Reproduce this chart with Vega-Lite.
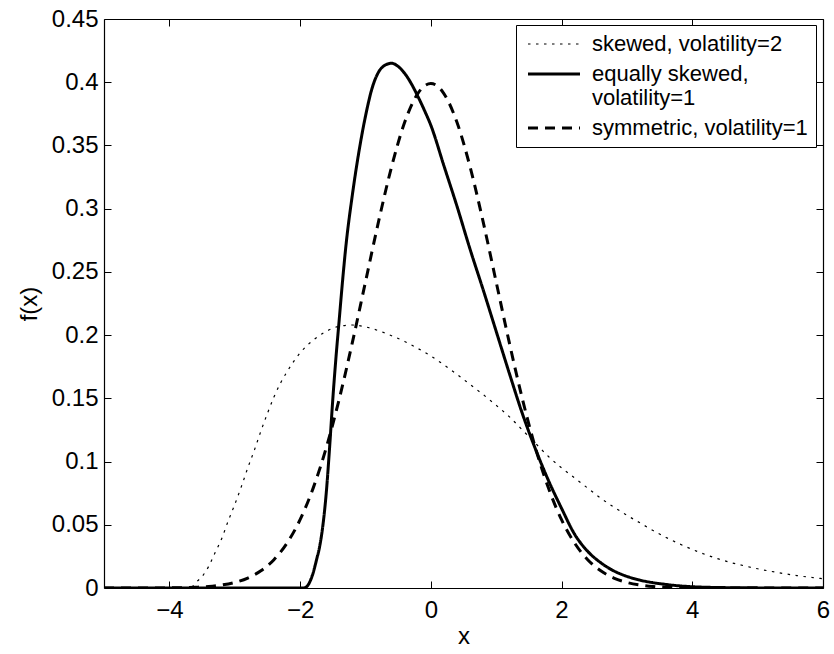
{
  "$schema": "https://vega.github.io/schema/vega-lite/v6.json",
  "width": 719,
  "height": 569,
  "autosize": {"type": "none"},
  "padding": {"left": 104, "top": 19, "right": 11, "bottom": 66},
  "background": "white",
  "config": {
    "view": {"stroke": null},
    "font": "Liberation Sans",
    "axis": {
      "domainColor": "black",
      "domainWidth": 1.2,
      "tickColor": "black",
      "tickWidth": 1,
      "tickSize": -7,
      "labelColor": "black",
      "titleColor": "black",
      "labelFont": "Liberation Sans",
      "titleFont": "Liberation Sans",
      "labelFontSize": 24,
      "titleFontSize": 24,
      "titleFontWeight": "normal",
      "grid": false,
      "labelFlush": false,
      "labelOverlap": false
    }
  },
  "datasets": {
    "curves": [
      {"s": "skewed, volatility=2", "x": -5, "y": 0},
      {"s": "skewed, volatility=2", "x": -3.7, "y": 0},
      {"s": "skewed, volatility=2", "x": -3.65, "y": 0.001},
      {"s": "skewed, volatility=2", "x": -3.6, "y": 0.004},
      {"s": "skewed, volatility=2", "x": -3.5, "y": 0.009},
      {"s": "skewed, volatility=2", "x": -3.4, "y": 0.017},
      {"s": "skewed, volatility=2", "x": -3.3, "y": 0.028},
      {"s": "skewed, volatility=2", "x": -3.2, "y": 0.039},
      {"s": "skewed, volatility=2", "x": -3.1, "y": 0.053},
      {"s": "skewed, volatility=2", "x": -3.0, "y": 0.066},
      {"s": "skewed, volatility=2", "x": -2.9, "y": 0.080},
      {"s": "skewed, volatility=2", "x": -2.8, "y": 0.095},
      {"s": "skewed, volatility=2", "x": -2.7, "y": 0.109},
      {"s": "skewed, volatility=2", "x": -2.6, "y": 0.124},
      {"s": "skewed, volatility=2", "x": -2.5, "y": 0.138},
      {"s": "skewed, volatility=2", "x": -2.4, "y": 0.151},
      {"s": "skewed, volatility=2", "x": -2.3, "y": 0.162},
      {"s": "skewed, volatility=2", "x": -2.2, "y": 0.171},
      {"s": "skewed, volatility=2", "x": -2.1, "y": 0.179},
      {"s": "skewed, volatility=2", "x": -2.0, "y": 0.186},
      {"s": "skewed, volatility=2", "x": -1.8, "y": 0.196},
      {"s": "skewed, volatility=2", "x": -1.6, "y": 0.203},
      {"s": "skewed, volatility=2", "x": -1.4, "y": 0.207},
      {"s": "skewed, volatility=2", "x": -1.2, "y": 0.208},
      {"s": "skewed, volatility=2", "x": -1.0, "y": 0.2065},
      {"s": "skewed, volatility=2", "x": -0.8, "y": 0.2035},
      {"s": "skewed, volatility=2", "x": -0.6, "y": 0.1995},
      {"s": "skewed, volatility=2", "x": -0.4, "y": 0.195},
      {"s": "skewed, volatility=2", "x": -0.2, "y": 0.1895},
      {"s": "skewed, volatility=2", "x": 0.0, "y": 0.1835},
      {"s": "skewed, volatility=2", "x": 0.2, "y": 0.1765},
      {"s": "skewed, volatility=2", "x": 0.4, "y": 0.169},
      {"s": "skewed, volatility=2", "x": 0.6, "y": 0.161},
      {"s": "skewed, volatility=2", "x": 0.8, "y": 0.153},
      {"s": "skewed, volatility=2", "x": 1.0, "y": 0.1445},
      {"s": "skewed, volatility=2", "x": 1.2, "y": 0.1355},
      {"s": "skewed, volatility=2", "x": 1.4, "y": 0.125},
      {"s": "skewed, volatility=2", "x": 1.6, "y": 0.1145},
      {"s": "skewed, volatility=2", "x": 1.8, "y": 0.104},
      {"s": "skewed, volatility=2", "x": 2.0, "y": 0.095},
      {"s": "skewed, volatility=2", "x": 2.2, "y": 0.087},
      {"s": "skewed, volatility=2", "x": 2.4, "y": 0.079},
      {"s": "skewed, volatility=2", "x": 2.6, "y": 0.071},
      {"s": "skewed, volatility=2", "x": 2.8, "y": 0.064},
      {"s": "skewed, volatility=2", "x": 3.0, "y": 0.0575},
      {"s": "skewed, volatility=2", "x": 3.2, "y": 0.0515},
      {"s": "skewed, volatility=2", "x": 3.4, "y": 0.0455},
      {"s": "skewed, volatility=2", "x": 3.6, "y": 0.040},
      {"s": "skewed, volatility=2", "x": 3.8, "y": 0.035},
      {"s": "skewed, volatility=2", "x": 4.0, "y": 0.0305},
      {"s": "skewed, volatility=2", "x": 4.2, "y": 0.0265},
      {"s": "skewed, volatility=2", "x": 4.4, "y": 0.023},
      {"s": "skewed, volatility=2", "x": 4.6, "y": 0.020},
      {"s": "skewed, volatility=2", "x": 4.8, "y": 0.0175},
      {"s": "skewed, volatility=2", "x": 5.0, "y": 0.0152},
      {"s": "skewed, volatility=2", "x": 5.2, "y": 0.0132},
      {"s": "skewed, volatility=2", "x": 5.4, "y": 0.0114},
      {"s": "skewed, volatility=2", "x": 5.6, "y": 0.0098},
      {"s": "skewed, volatility=2", "x": 5.8, "y": 0.0085},
      {"s": "skewed, volatility=2", "x": 6.0, "y": 0.0073},

      {"s": "equally skewed, volatility=1", "x": -5, "y": 0},
      {"s": "equally skewed, volatility=1", "x": -2.0, "y": 0},
      {"s": "equally skewed, volatility=1", "x": -1.95, "y": 0},
      {"s": "equally skewed, volatility=1", "x": -1.9, "y": 0.001},
      {"s": "equally skewed, volatility=1", "x": -1.85, "y": 0.005},
      {"s": "equally skewed, volatility=1", "x": -1.8, "y": 0.012},
      {"s": "equally skewed, volatility=1", "x": -1.75, "y": 0.022},
      {"s": "equally skewed, volatility=1", "x": -1.7, "y": 0.033},
      {"s": "equally skewed, volatility=1", "x": -1.65, "y": 0.050},
      {"s": "equally skewed, volatility=1", "x": -1.6, "y": 0.075},
      {"s": "equally skewed, volatility=1", "x": -1.55, "y": 0.110},
      {"s": "equally skewed, volatility=1", "x": -1.5, "y": 0.149},
      {"s": "equally skewed, volatility=1", "x": -1.45, "y": 0.183},
      {"s": "equally skewed, volatility=1", "x": -1.4, "y": 0.213},
      {"s": "equally skewed, volatility=1", "x": -1.35, "y": 0.243},
      {"s": "equally skewed, volatility=1", "x": -1.3, "y": 0.270},
      {"s": "equally skewed, volatility=1", "x": -1.2, "y": 0.311},
      {"s": "equally skewed, volatility=1", "x": -1.1, "y": 0.345},
      {"s": "equally skewed, volatility=1", "x": -1.0, "y": 0.373},
      {"s": "equally skewed, volatility=1", "x": -0.9, "y": 0.395},
      {"s": "equally skewed, volatility=1", "x": -0.8, "y": 0.408},
      {"s": "equally skewed, volatility=1", "x": -0.7, "y": 0.4135},
      {"s": "equally skewed, volatility=1", "x": -0.6, "y": 0.415},
      {"s": "equally skewed, volatility=1", "x": -0.5, "y": 0.4125},
      {"s": "equally skewed, volatility=1", "x": -0.4, "y": 0.407},
      {"s": "equally skewed, volatility=1", "x": -0.3, "y": 0.399},
      {"s": "equally skewed, volatility=1", "x": -0.2, "y": 0.389},
      {"s": "equally skewed, volatility=1", "x": -0.1, "y": 0.378},
      {"s": "equally skewed, volatility=1", "x": 0.0, "y": 0.366},
      {"s": "equally skewed, volatility=1", "x": 0.2, "y": 0.334},
      {"s": "equally skewed, volatility=1", "x": 0.4, "y": 0.302},
      {"s": "equally skewed, volatility=1", "x": 0.6, "y": 0.268},
      {"s": "equally skewed, volatility=1", "x": 0.8, "y": 0.236},
      {"s": "equally skewed, volatility=1", "x": 1.0, "y": 0.203},
      {"s": "equally skewed, volatility=1", "x": 1.2, "y": 0.170},
      {"s": "equally skewed, volatility=1", "x": 1.4, "y": 0.138},
      {"s": "equally skewed, volatility=1", "x": 1.6, "y": 0.110},
      {"s": "equally skewed, volatility=1", "x": 1.8, "y": 0.085},
      {"s": "equally skewed, volatility=1", "x": 2.0, "y": 0.063},
      {"s": "equally skewed, volatility=1", "x": 2.2, "y": 0.0425},
      {"s": "equally skewed, volatility=1", "x": 2.4, "y": 0.029},
      {"s": "equally skewed, volatility=1", "x": 2.6, "y": 0.020},
      {"s": "equally skewed, volatility=1", "x": 2.8, "y": 0.0135},
      {"s": "equally skewed, volatility=1", "x": 3.0, "y": 0.0092},
      {"s": "equally skewed, volatility=1", "x": 3.2, "y": 0.0062},
      {"s": "equally skewed, volatility=1", "x": 3.4, "y": 0.0042},
      {"s": "equally skewed, volatility=1", "x": 3.6, "y": 0.0028},
      {"s": "equally skewed, volatility=1", "x": 3.8, "y": 0.0017},
      {"s": "equally skewed, volatility=1", "x": 4.0, "y": 0.0010},
      {"s": "equally skewed, volatility=1", "x": 4.5, "y": 0.0003},
      {"s": "equally skewed, volatility=1", "x": 5.0, "y": 0.0001},
      {"s": "equally skewed, volatility=1", "x": 6.0, "y": 0},

      {"s": "symmetric, volatility=1", "x": -5, "y": 0},
      {"s": "symmetric, volatility=1", "x": -4.5, "y": 0},
      {"s": "symmetric, volatility=1", "x": -4.0, "y": 0.0001},
      {"s": "symmetric, volatility=1", "x": -3.6, "y": 0.0006},
      {"s": "symmetric, volatility=1", "x": -3.4, "y": 0.0012},
      {"s": "symmetric, volatility=1", "x": -3.2, "y": 0.0024},
      {"s": "symmetric, volatility=1", "x": -3.0, "y": 0.0044},
      {"s": "symmetric, volatility=1", "x": -2.8, "y": 0.0079},
      {"s": "symmetric, volatility=1", "x": -2.6, "y": 0.0136},
      {"s": "symmetric, volatility=1", "x": -2.4, "y": 0.0224},
      {"s": "symmetric, volatility=1", "x": -2.2, "y": 0.0355},
      {"s": "symmetric, volatility=1", "x": -2.0, "y": 0.0540},
      {"s": "symmetric, volatility=1", "x": -1.8, "y": 0.0790},
      {"s": "symmetric, volatility=1", "x": -1.6, "y": 0.1109},
      {"s": "symmetric, volatility=1", "x": -1.4, "y": 0.1497},
      {"s": "symmetric, volatility=1", "x": -1.2, "y": 0.1942},
      {"s": "symmetric, volatility=1", "x": -1.0, "y": 0.2420},
      {"s": "symmetric, volatility=1", "x": -0.8, "y": 0.2897},
      {"s": "symmetric, volatility=1", "x": -0.6, "y": 0.3332},
      {"s": "symmetric, volatility=1", "x": -0.4, "y": 0.3683},
      {"s": "symmetric, volatility=1", "x": -0.2, "y": 0.3910},
      {"s": "symmetric, volatility=1", "x": -0.1, "y": 0.3970},
      {"s": "symmetric, volatility=1", "x": 0.0, "y": 0.3989},
      {"s": "symmetric, volatility=1", "x": 0.1, "y": 0.3970},
      {"s": "symmetric, volatility=1", "x": 0.2, "y": 0.3910},
      {"s": "symmetric, volatility=1", "x": 0.4, "y": 0.3683},
      {"s": "symmetric, volatility=1", "x": 0.6, "y": 0.3332},
      {"s": "symmetric, volatility=1", "x": 0.8, "y": 0.2897},
      {"s": "symmetric, volatility=1", "x": 1.0, "y": 0.2420},
      {"s": "symmetric, volatility=1", "x": 1.2, "y": 0.1942},
      {"s": "symmetric, volatility=1", "x": 1.4, "y": 0.1497},
      {"s": "symmetric, volatility=1", "x": 1.6, "y": 0.1109},
      {"s": "symmetric, volatility=1", "x": 1.8, "y": 0.0790},
      {"s": "symmetric, volatility=1", "x": 2.0, "y": 0.0540},
      {"s": "symmetric, volatility=1", "x": 2.2, "y": 0.0355},
      {"s": "symmetric, volatility=1", "x": 2.4, "y": 0.0224},
      {"s": "symmetric, volatility=1", "x": 2.6, "y": 0.0136},
      {"s": "symmetric, volatility=1", "x": 2.8, "y": 0.0079},
      {"s": "symmetric, volatility=1", "x": 3.0, "y": 0.0044},
      {"s": "symmetric, volatility=1", "x": 3.2, "y": 0.0024},
      {"s": "symmetric, volatility=1", "x": 3.4, "y": 0.0012},
      {"s": "symmetric, volatility=1", "x": 3.6, "y": 0.0006},
      {"s": "symmetric, volatility=1", "x": 4.0, "y": 0.0001},
      {"s": "symmetric, volatility=1", "x": 4.5, "y": 0},
      {"s": "symmetric, volatility=1", "x": 5.0, "y": 0},
      {"s": "symmetric, volatility=1", "x": 6.0, "y": 0}
    ]
  },
  "layer": [
    {
      "data": {"name": "curves"},
      "mark": {"type": "line", "interpolate": "monotone", "color": "black", "clip": true},
      "encoding": {
        "x": {
          "field": "x", "type": "quantitative",
          "scale": {"domain": [-5, 6], "nice": false, "zero": false},
          "axis": {"orient": "bottom", "values": [-4, -2, 0, 2, 4, 6], "labelPadding": 17, "title": "x", "titlePadding": 2}
        },
        "y": {
          "field": "y", "type": "quantitative",
          "scale": {"domain": [0, 0.45], "nice": false, "zero": false},
          "axis": {"orient": "left", "values": [0, 0.05, 0.1, 0.15, 0.2, 0.25, 0.3, 0.35, 0.4, 0.45], "format": "~g", "labelPadding": 13, "title": "f(x)", "titlePadding": 10}
        },
        "strokeDash": {
          "field": "s", "type": "nominal",
          "scale": {"type": "ordinal", "domain": ["skewed, volatility=2", "equally skewed, volatility=1", "symmetric, volatility=1"], "range": [[2.5, 5.5], [1, 0], [10, 7]]},
          "legend": {
            "title": null, "orient": "none", "legendX": 412, "legendY": 6, "direction": "vertical",
            "symbolType": "M-4,0H4", "symbolSize": 169, "symbolStrokeColor": "black",
            "labelFont": "Liberation Sans", "labelFontSize": 22, "labelColor": "black", "labelOffset": 27, "labelLimit": 400,
            "padding": 8, "symbolOffset": 19, "rowPadding": 8,
            "strokeColor": "black", "fillColor": "white", "cornerRadius": 0,
            "labelExpr": "datum.label == 'equally skewed, volatility=1' ? ['equally skewed,', 'volatility=1'] : datum.label"
          }
        },
        "strokeWidth": {
          "field": "s", "type": "nominal",
          "scale": {"type": "ordinal", "domain": ["skewed, volatility=2", "equally skewed, volatility=1", "symmetric, volatility=1"], "range": [1.2, 3, 3]},
          "legend": {
            "title": null, "orient": "none", "legendX": 412, "legendY": 6, "direction": "vertical",
            "symbolType": "M-4,0H4", "symbolSize": 169, "symbolStrokeColor": "black",
            "labelFont": "Liberation Sans", "labelFontSize": 22, "labelColor": "black", "labelOffset": 27, "labelLimit": 400,
            "padding": 8, "symbolOffset": 19, "rowPadding": 8,
            "strokeColor": "black", "fillColor": "white", "cornerRadius": 0,
            "labelExpr": "datum.label == 'equally skewed, volatility=1' ? ['equally skewed,', 'volatility=1'] : datum.label"
          }
        }
      }
    },
    {
      "data": {"name": "curves"},
      "mark": {"type": "line", "opacity": 0},
      "encoding": {
        "x": {"field": "x", "type": "quantitative", "axis": {"orient": "top", "values": [-4, -2, 0, 2, 4, 6], "labels": false, "title": null}},
        "y": {"field": "y", "type": "quantitative", "axis": {"orient": "right", "values": [0, 0.05, 0.1, 0.15, 0.2, 0.25, 0.3, 0.35, 0.4, 0.45], "labels": false, "title": null}},
        "detail": {"field": "s", "type": "nominal"}
      }
    }
  ],
  "resolve": {"axis": {"x": "independent", "y": "independent"}}
}
